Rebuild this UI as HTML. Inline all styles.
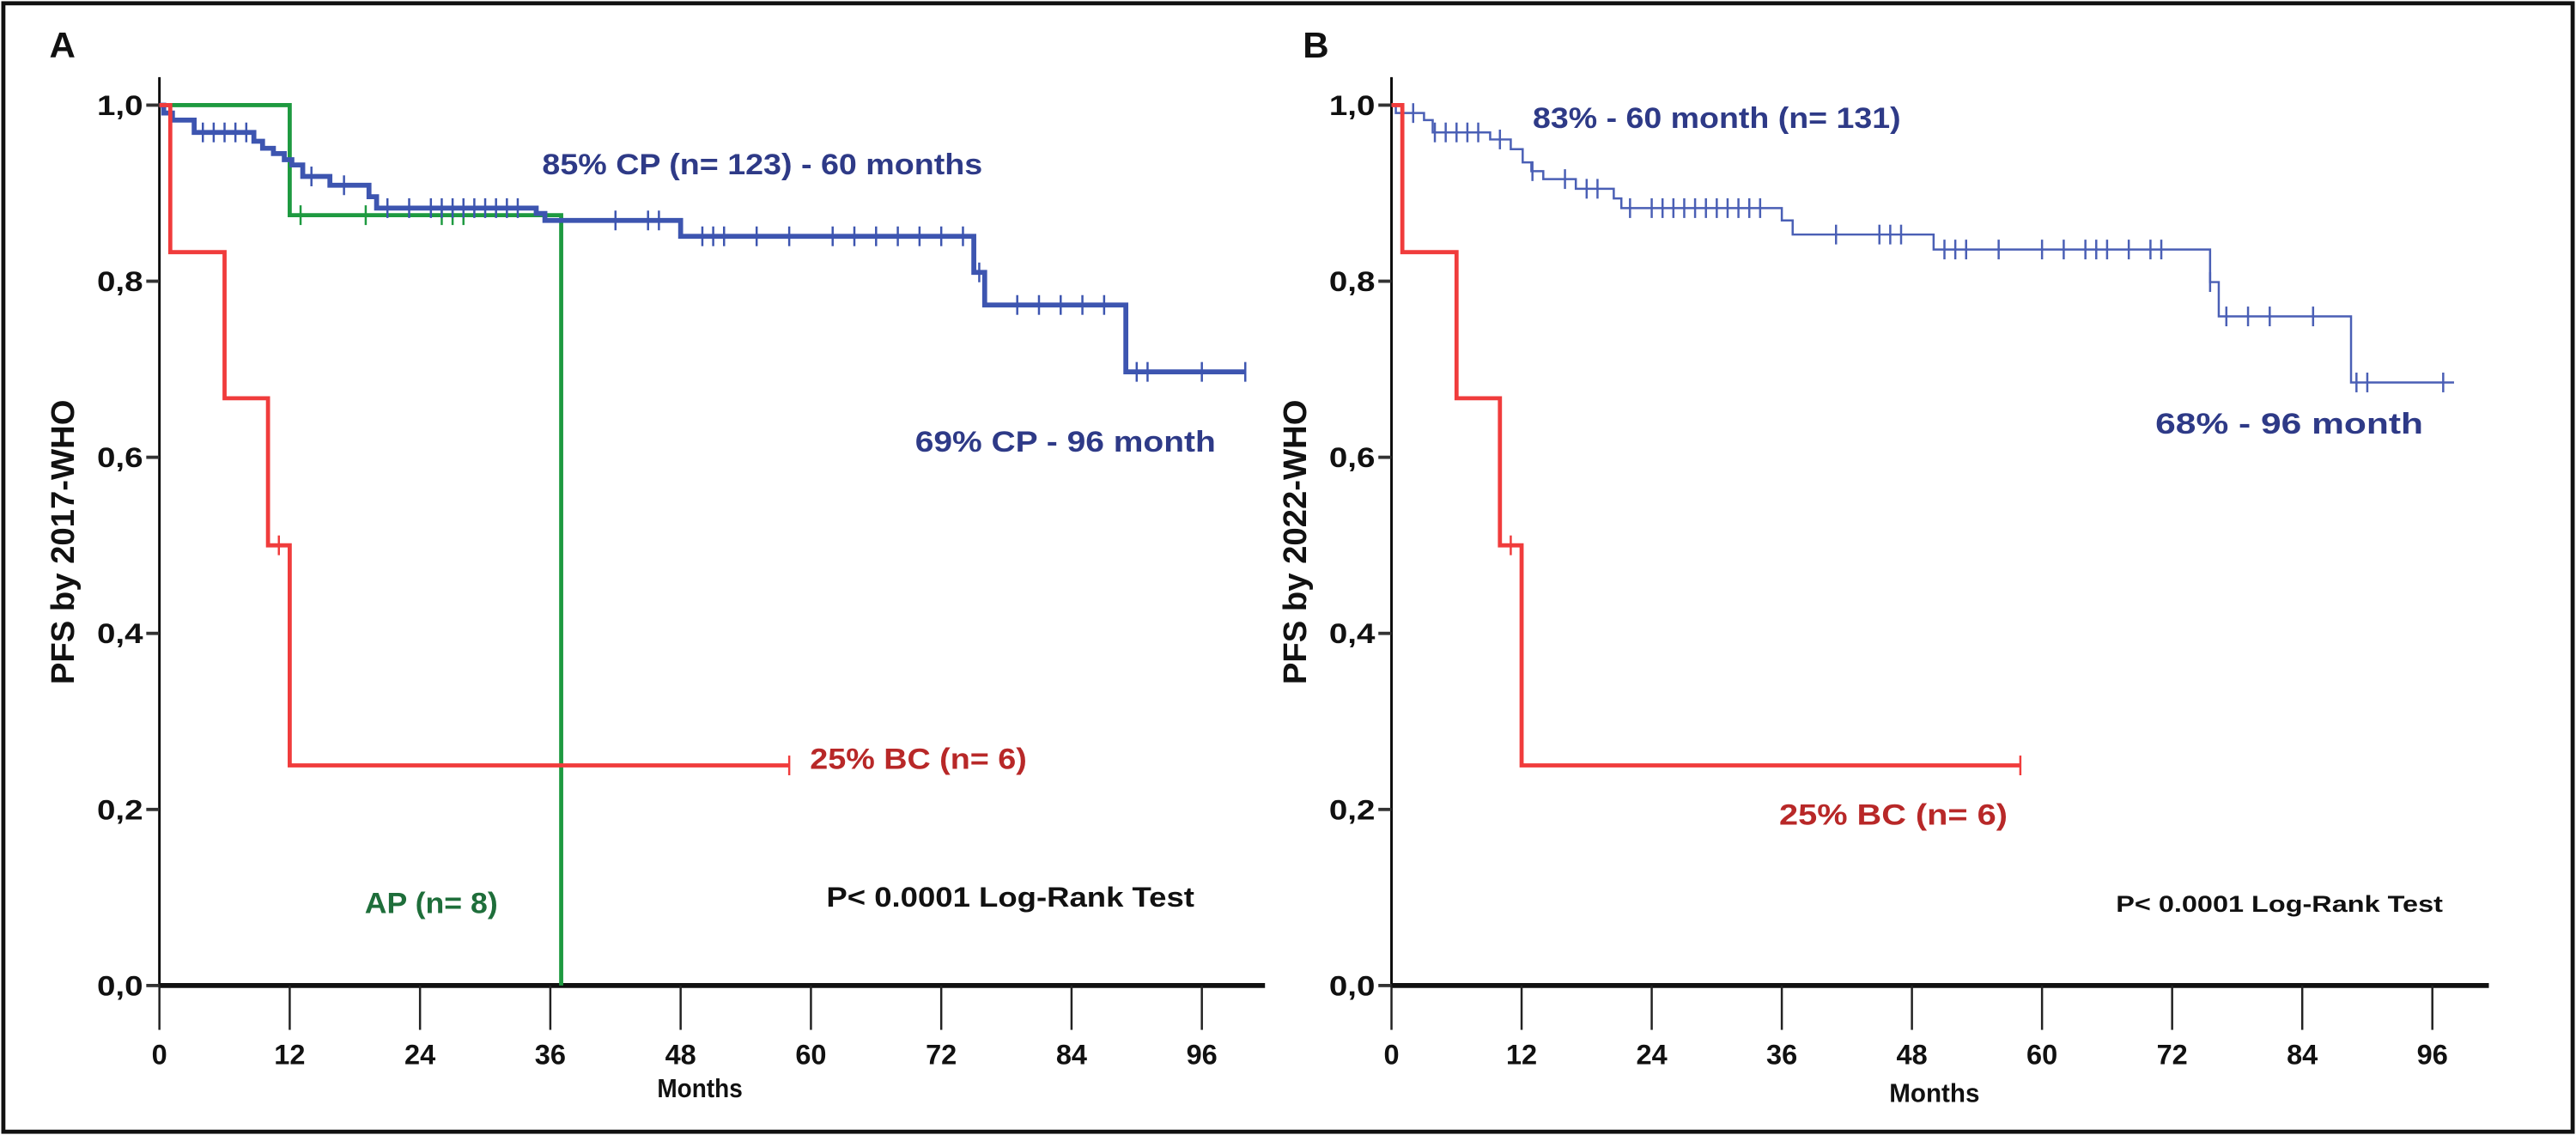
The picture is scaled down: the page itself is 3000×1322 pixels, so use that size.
<!DOCTYPE html>
<html><head><meta charset="utf-8"><style>
html,body{margin:0;padding:0;background:#fff}
svg{display:block}
text{font-family:"Liberation Sans",sans-serif;font-weight:bold}
</style></head><body>
<svg id="fig" width="3000" height="1322" viewBox="0 0 1568 691" xmlns="http://www.w3.org/2000/svg">
<rect x="2" y="2" width="1564" height="687" fill="#fff" stroke="#111" stroke-width="2.5"/>
<g id="pA"></g>
<g id="pB"></g>
</svg>
<script>
// ---- data ----
const xTicks=[0,12,24,36,48,60,72,84,96];
const yTicks=[0,0.2,0.4,0.6,0.8,1.0];
const yTickLabels=["0,0","0,2","0,4","0,6","0,8","1,0"];
const aRedTimes=[0,1,6,10,12];
const aRedSurv=[1,0.833,0.667,0.5,0.25];
const aRedEnd=58;
const aRedCensor=[11,58];
const aGreenTimes=[0,12,37];
const aGreenSurv=[1,0.875,0];
const aGreenEnd=37;
const aGreenCensor=[13,19,26,27,28];
const aBlueTimes=[0,0.4,1.2,3.2,8.7,9.5,10.5,11.5,12.2,13.2,15.7,19.3,20,34.7,35.5,48,75,76,89];
const aBlueSurv=[1,0.991,0.983,0.969,0.959,0.951,0.945,0.938,0.932,0.919,0.909,0.896,0.883,0.877,0.869,0.851,0.81,0.773,0.697];
const aBlueEnd=100;
const aBlueCensor=[4,5,6,7,8,14,17,21,23,25,26,27,28,29,30,31,32,33,42,45,46,50,51,52,55,58,62,64,66,68,70,72,74,75.5,79,81,83,85,87,90,91,96,100];
const bRedTimes=[0,1,6,10,12];
const bRedSurv=[1,0.833,0.667,0.5,0.25];
const bRedEnd=58;
const bRedCensor=[11,58];
const bBlueTimes=[0,0.4,3,3.8,9.1,11,12.1,12.9,14,17,20.5,21.2,36,37,50,75.5,76.3,88.5];
const bBlueSurv=[1,0.991,0.983,0.969,0.961,0.95,0.935,0.925,0.916,0.905,0.894,0.883,0.869,0.853,0.836,0.799,0.76,0.685];
const bBlueEnd=98;
const bBlueCensor=[1,2,4,5,6,7,8,10,13,16,18,19,22,24,25,26,27,28,29,30,31,32,33,34,41,45,46,47,51,52,53,56,60,62,64,65,66,68,70,71,75.5,77,79,81,85,89,90,97];

const NS="http://www.w3.org/2000/svg";
function mk(parent,tag,attrs,txt){const e=document.createElementNS(NS,tag);for(const k in attrs)e.setAttribute(k,attrs[k]);if(txt!==undefined)e.textContent=txt;parent.appendChild(e);return e;}

function panel(g,x0,pxPerMonth,axisEndX){
  const y0=600, y1=64;
  const sx=m=>x0+m*pxPerMonth;
  const sy=v=>y0-(y0-y1)*v;
  // axes
  let ax=mk(g,'line',{x1:x0,y1:47,x2:x0,y2:y0,stroke:'#000','stroke-width':1.5});
  
  
  let bx=mk(g,'line',{x1:x0,y1:y0,x2:axisEndX,y2:y0,stroke:'#111','stroke-width':3});
  
  
  yTicks.forEach((v,i)=>{
    let t=mk(g,'line',{x1:x0-8,y1:sy(v),x2:x0,y2:sy(v),stroke:'#333','stroke-width':2});
    
    
    let l=mk(g,'text',{x:x0-10,y:sy(v)+6,'text-anchor':'end','font-size':17,fill:'#111',textLength:28,lengthAdjust:'spacingAndGlyphs'},yTickLabels[i]);
    
    
  });
  xTicks.forEach(m=>{
    let t=mk(g,'line',{x1:sx(m),y1:y0,x2:sx(m),y2:y0+27,stroke:'#222','stroke-width':1.3});
    
    
    let l=mk(g,'text',{x:sx(m),y:y0+48,'text-anchor':'middle','font-size':17,fill:'#111'},String(m));
    
    
  });
  return {sx,sy};
}

function curve(g,sc,times,surv,end,censor,color,w,name){
  let d='M'+sc.sx(times[0])+','+sc.sy(surv[0]);
  for(let i=1;i<times.length;i++){d+=' H'+sc.sx(times[i])+' V'+sc.sy(surv[i]);}
  d+=' H'+sc.sx(end);
  let p=mk(g,'path',{d:d,fill:'none',stroke:color,'stroke-width':w});
  
  
  const survAt=t=>{let s=surv[0];for(let i=0;i<times.length;i++){if(times[i]<=t)s=surv[i];}return s;};
  censor.forEach(t=>{
    const y=sc.sy(survAt(t));
    let c=mk(g,'line',{x1:sc.sx(t),y1:y-6,x2:sc.sx(t),y2:y+6,stroke:color,'stroke-width':1.3});
    
    
  });
}

function label(g,x,y,txt,size,color,len,name,rot){
  const a={x:x,y:y,'font-size':size,fill:color};
  if(len){a.textLength=len;a.lengthAdjust='spacingAndGlyphs';}
  if(rot){a.transform=rot;a['text-anchor']='middle';}
  let t=mk(g,'text',a,txt);
  
  
}

// Panel A
const gA=document.getElementById('pA');
const sA=panel(gA,97,6.61,770);
curve(gA,sA,aGreenTimes,aGreenSurv,aGreenEnd,aGreenCensor,'#1e9a40',2.5,'ap-curve');
curve(gA,sA,aBlueTimes,aBlueSurv,aBlueEnd,aBlueCensor,'#3d55b0',3,'cp-curve');
curve(gA,sA,aRedTimes,aRedSurv,aRedEnd,aRedCensor,'#f03c3c',2.5,'bc-curve');
label(gA,30,35,'A',22,'#111',null,'panel-a-label');
label(gA,330,106,'85% CP (n= 123) - 60 months',18,'#2e3a87',268,'cp-annotation');
label(gA,557,275,'69% CP - 96 month',18,'#2e3a87',183,'cp-96-annotation');
label(gA,493,468,'25% BC (n= 6)',18,'#b82828',132,'bc-annotation');
label(gA,222,556,'AP (n= 8)',18,'#1e6e3a',81,'ap-annotation');
label(gA,503,552,'P< 0.0001 Log-Rank Test',17,'#111',224,'p-value-annotation');
label(gA,400,668,'Months',16,'#111',52,'x-axis-title');
label(gA,0,0,'PFS by 2017-WHO',20,'#111',null,'y-axis-title','translate(45,330) rotate(-90)');

// Panel B
const gB=document.getElementById('pB');
const sB=panel(gB,847,6.6,1515);
curve(gB,sB,bBlueTimes,bBlueSurv,bBlueEnd,bBlueCensor,'#4a5fb5',1.3,'blue-curve');
curve(gB,sB,bRedTimes,bRedSurv,bRedEnd,bRedCensor,'#f03c3c',2.5,'bc-curve');
label(gB,793,35,'B',22,'#111',null,'panel-b-label');
label(gB,933,78,'83% - 60 month (n= 131)',18,'#2e3a87',224,'cp-annotation');
label(gB,1312,264,'68% - 96 month',18,'#2e3a87',163,'cp-96-annotation');
label(gB,1083,502,'25% BC (n= 6)',18,'#b82828',139,'bc-annotation');
label(gB,1288,555,'P< 0.0001 Log-Rank Test',14,'#111',199,'p-value-annotation');
label(gB,1150,671,'Months',16,'#111',55,'x-axis-title');
label(gB,0,0,'PFS by 2022-WHO',20,'#111',null,'y-axis-title','translate(795,330) rotate(-90)');
</script>
</body></html>
